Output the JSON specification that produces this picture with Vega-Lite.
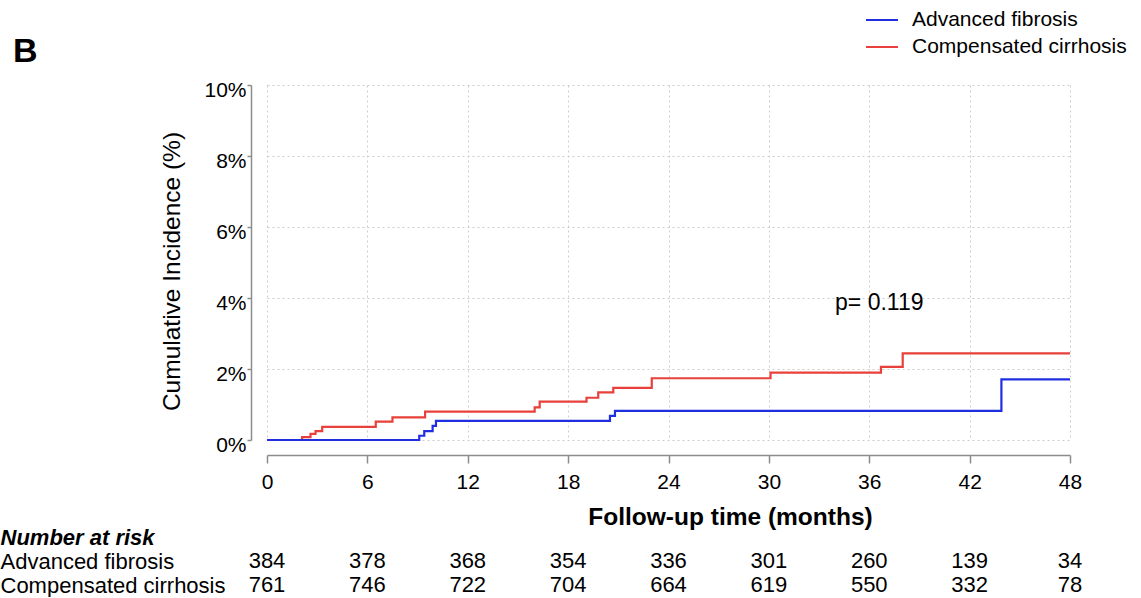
{
  "$schema": "https://vega.github.io/schema/vega-lite/v6.json",
  "autosize": {"type": "pad"},
  "padding": {"left": 0, "top": 3, "right": 0, "bottom": 0},
  "background": "white",
  "spacing": 12,
  "config": {
    "font": "Liberation Sans",
    "view": {"stroke": null},
    "axis": {
      "labelFont": "Liberation Sans",
      "titleFont": "Liberation Sans",
      "labelColor": "#000000",
      "titleColor": "#000000",
      "domainColor": "#8c8c8c",
      "tickColor": "#8c8c8c",
      "domainWidth": 1.5,
      "tickWidth": 1.5,
      "gridColor": "#cccccc",
      "gridDash": [2, 3],
      "gridWidth": 1
    }
  },
  "datasets": {
    "curves": [
      {"group": "Advanced fibrosis", "month": 0, "pct": 0},
      {"group": "Advanced fibrosis", "month": 9.1, "pct": 0.12},
      {"group": "Advanced fibrosis", "month": 9.4, "pct": 0.25},
      {"group": "Advanced fibrosis", "month": 9.9, "pct": 0.4},
      {"group": "Advanced fibrosis", "month": 10.1, "pct": 0.54},
      {"group": "Advanced fibrosis", "month": 20.5, "pct": 0.68},
      {"group": "Advanced fibrosis", "month": 20.8, "pct": 0.82},
      {"group": "Advanced fibrosis", "month": 43.9, "pct": 1.71},
      {"group": "Advanced fibrosis", "month": 48, "pct": 1.71},
      {"group": "Compensated cirrhosis", "month": 0, "pct": 0},
      {"group": "Compensated cirrhosis", "month": 2.1, "pct": 0.08},
      {"group": "Compensated cirrhosis", "month": 2.6, "pct": 0.17},
      {"group": "Compensated cirrhosis", "month": 2.9, "pct": 0.25},
      {"group": "Compensated cirrhosis", "month": 3.3, "pct": 0.37},
      {"group": "Compensated cirrhosis", "month": 6.5, "pct": 0.52},
      {"group": "Compensated cirrhosis", "month": 7.5, "pct": 0.64},
      {"group": "Compensated cirrhosis", "month": 9.45, "pct": 0.8},
      {"group": "Compensated cirrhosis", "month": 16.0, "pct": 0.92},
      {"group": "Compensated cirrhosis", "month": 16.3, "pct": 1.08},
      {"group": "Compensated cirrhosis", "month": 19.1, "pct": 1.19},
      {"group": "Compensated cirrhosis", "month": 19.8, "pct": 1.34},
      {"group": "Compensated cirrhosis", "month": 20.7, "pct": 1.47},
      {"group": "Compensated cirrhosis", "month": 23.0, "pct": 1.74},
      {"group": "Compensated cirrhosis", "month": 30.1, "pct": 1.9},
      {"group": "Compensated cirrhosis", "month": 36.7, "pct": 2.06},
      {"group": "Compensated cirrhosis", "month": 38.0, "pct": 2.44},
      {"group": "Compensated cirrhosis", "month": 48, "pct": 2.44}
    ],
    "risk": [
      {"group": "Advanced fibrosis", "month": 0, "n": 384},
      {"group": "Advanced fibrosis", "month": 6, "n": 378},
      {"group": "Advanced fibrosis", "month": 12, "n": 368},
      {"group": "Advanced fibrosis", "month": 18, "n": 354},
      {"group": "Advanced fibrosis", "month": 24, "n": 336},
      {"group": "Advanced fibrosis", "month": 30, "n": 301},
      {"group": "Advanced fibrosis", "month": 36, "n": 260},
      {"group": "Advanced fibrosis", "month": 42, "n": 139},
      {"group": "Advanced fibrosis", "month": 48, "n": 34},
      {"group": "Compensated cirrhosis", "month": 0, "n": 761},
      {"group": "Compensated cirrhosis", "month": 6, "n": 746},
      {"group": "Compensated cirrhosis", "month": 12, "n": 722},
      {"group": "Compensated cirrhosis", "month": 18, "n": 704},
      {"group": "Compensated cirrhosis", "month": 24, "n": 664},
      {"group": "Compensated cirrhosis", "month": 30, "n": 619},
      {"group": "Compensated cirrhosis", "month": 36, "n": 550},
      {"group": "Compensated cirrhosis", "month": 42, "n": 332},
      {"group": "Compensated cirrhosis", "month": 48, "n": 78}
    ]
  },
  "vconcat": [
    {
      "width": 803,
      "height": 355,
      "title": {
        "text": "B",
        "anchor": "start",
        "frame": "group",
        "fontSize": 34,
        "fontWeight": "bold",
        "font": "Liberation Sans",
        "color": "#000000",
        "dx": -254,
        "offset": 10
      },
      "layer": [
        {
          "data": {"name": "curves"},
          "transform": [{"filter": "datum.group === 'Compensated cirrhosis'"}],
          "mark": {"type": "line", "interpolate": "step-after", "strokeWidth": 2.2},
          "encoding": {
            "x": {
              "field": "month",
              "type": "quantitative",
              "scale": {"domain": [0, 48], "nice": false},
              "axis": {
                "values": [0, 6, 12, 18, 24, 30, 36, 42, 48],
                "offset": 15,
                "tickSize": 8,
                "labelPadding": 8,
                "labelFontSize": 21,
                "labelFlush": false,
                "grid": true,
                "title": null
              }
            },
            "y": {
              "field": "pct",
              "type": "quantitative",
              "scale": {"domain": [0, 10], "nice": false},
              "axis": {
                "values": [0, 2, 4, 6, 8, 10],
                "offset": 16,
                "tickSize": 4,
                "labelPadding": 1,
                "labelFontSize": 21,
                "labelOffset": 5,
                "labelFlush": false,
                "labelExpr": "datum.value + '%'",
                "grid": true,
                "title": "Cumulative Incidence (%)",
                "titleFontSize": 24.5,
                "titleFontWeight": "normal",
                "titleX": -79,
                "titleY": 186,
                "titleAlign": "center",
                "titleBaseline": "middle",
                "titleAngle": -90
              }
            },
            "color": {
              "field": "group",
              "type": "nominal",
              "scale": {
                "domain": ["Advanced fibrosis", "Compensated cirrhosis"],
                "range": ["#1f2fe0", "#e8403a"]
              },
              "legend": {
                "orient": "none",
                "legendX": 598,
                "legendY": -82,
                "title": null,
                "symbolType": "stroke",
                "symbolSize": 1024,
                "symbolStrokeWidth": 2,
                "labelFontSize": 21,
                "labelFont": "Liberation Sans",
                "labelColor": "#000000",
                "labelOffset": 13,
                "labelLimit": 400,
                "rowPadding": -7,
                "padding": 0
              }
            }
          }
        },
        {
          "data": {"name": "curves"},
          "transform": [{"filter": "datum.group === 'Advanced fibrosis'"}],
          "mark": {"type": "line", "interpolate": "step-after", "strokeWidth": 2.2},
          "encoding": {
            "x": {"field": "month", "type": "quantitative"},
            "y": {"field": "pct", "type": "quantitative"},
            "color": {"field": "group", "type": "nominal"}
          }
        },
        {
          "data": {"values": [{"month": 36.6, "pct": 3.86, "label": "p= 0.119"}]},
          "mark": {"type": "text", "fontSize": 23, "font": "Liberation Sans", "color": "#000000"},
          "encoding": {
            "x": {"field": "month", "type": "quantitative"},
            "y": {"field": "pct", "type": "quantitative"},
            "text": {"field": "label"}
          }
        }
      ]
    },
    {
      "width": 803,
      "height": 72,
      "data": {"name": "risk"},
      "mark": {"type": "text", "fontSize": 22, "font": "Liberation Sans", "color": "#000000"},
      "encoding": {
        "x": {
          "field": "month",
          "type": "quantitative",
          "scale": {"domain": [0, 48], "nice": false},
          "axis": {
            "orient": "top",
            "domain": false,
            "ticks": false,
            "labels": false,
            "grid": false,
            "title": "Follow-up time (months)",
            "titleFontSize": 24.5,
            "titleFontWeight": "bold",
            "titleX": 463,
            "titleY": -1,
            "titleAlign": "center",
            "titleBaseline": "alphabetic"
          }
        },
        "y": {
          "field": "group",
          "type": "nominal",
          "scale": {
            "domain": ["Number at risk", "Advanced fibrosis", "Compensated cirrhosis"],
            "padding": 0.5
          },
          "axis": {
            "title": null,
            "domain": false,
            "ticks": false,
            "grid": false,
            "labelAlign": "left",
            "labelBaseline": "middle",
            "labelPadding": 267,
            "labelFontSize": 22,
            "labelLimit": 400,
            "labelOverlap": false,
            "labelFontWeight": {"condition": {"test": "datum.value === 'Number at risk'", "value": "bold"}, "value": "normal"},
            "labelFontStyle": {"condition": {"test": "datum.value === 'Number at risk'", "value": "italic"}, "value": "normal"}
          }
        },
        "text": {"field": "n", "type": "quantitative"}
      }
    }
  ]
}
